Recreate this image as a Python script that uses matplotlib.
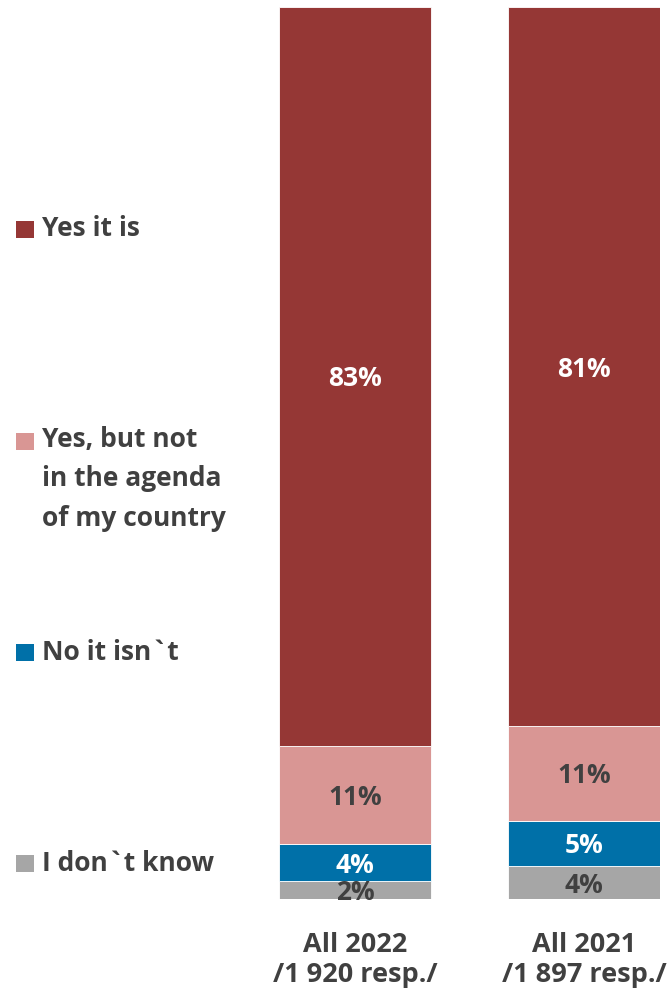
import matplotlib
matplotlib.use("Agg")
import matplotlib.pyplot as plt
from matplotlib.patches import Rectangle

plt.rcParams['font.family'] = ['Open Sans', 'DejaVu Sans']
plt.rcParams['font.weight'] = 'bold'

# data (share of respondents, %)
categories = ["All 2022\n/1 920 resp./", "All 2021\n/1 897 resp./"]
series = ["Yes it is", "Yes, but not\nin the agenda\nof my country", "No it isn`t", "I don`t know"]
yes_it_is = [82.8, 80.6]
yes_not_agenda = [11.0, 10.6]
no_it_isnt = [4.2, 5.1]
dont_know = [2.0, 3.7]

colors = ["#953735", "#d99694", "#0070a8", "#a6a6a6"]
label_colors = ["white", "#404040", "white", "#404040"]
txt = "#404040"

fig = plt.figure(figsize=(6.72, 9.96), dpi=100)
W, H = 672, 996

# bar axes in pixel layout
ax = fig.add_axes([279.3 / W, 97 / H, (660 - 279.3) / W, 892 / H])
bw = 0.665
x = [0, 1]
stack = [dont_know, no_it_isnt, yes_not_agenda, yes_it_is]
stack_colors = colors[::-1]
stack_lc = label_colors[::-1]
bottom = [0, 0]
for vals, c, lc in zip(stack, stack_colors, stack_lc):
    bars = ax.bar(x, vals, bw, bottom=bottom, color=c, edgecolor='white', linewidth=0.6)
    for xi, v, b in zip(x, vals, bottom):
        ax.text(xi, b + v / 2 - 0.3, f"{round(v)}%", ha='center', va='center',
                color=lc, fontsize=19, fontweight='bold')
    bottom = [b + v for b, v in zip(bottom, vals)]

ax.set_xlim(-bw / 2, 1 + bw / 2)
ax.set_ylim(0, 100)
ax.set_xticks(x)
ax.set_xticklabels(categories, fontsize=19.5, color=txt, fontweight='bold', linespacing=1.2)
ax.tick_params(axis='x', length=0, pad=24)
ax.set_yticks([])
for s in ax.spines.values():
    s.set_visible(False)

# legend on the left
leg_y = [229, 479, 652, 863]
for name, c, yy in zip(series, colors, leg_y):
    sq_y = yy - 38.5 if '\n' in name else yy
    fig.patches.append(Rectangle((16 / W, 1 - (sq_y + 9) / H), 18 / W, 17 / H,
                                 transform=fig.transFigure, facecolor=c, edgecolor='none'))
    fig.text(42 / W, 1 - yy / H, name, ha='left', va='center',
             fontsize=19, color=txt, fontweight='bold', linespacing=1.58)

plt.savefig("out.png", dpi=100)
